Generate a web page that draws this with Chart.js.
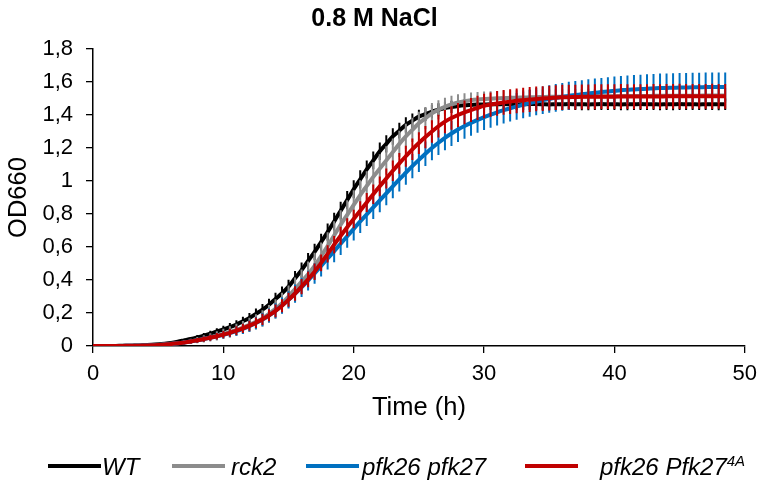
<!DOCTYPE html>
<html>
<head>
<meta charset="utf-8">
<script src="https://cdn.jsdelivr.net/npm/chart.js@4.4.1/dist/chart.umd.min.js"></script>
<style>
    body { margin: 0; background: #fff; }
    #wrap { position: relative; width: 765px; height: 490px; }
    #legend { position: absolute; left: 0; top: 0; width: 765px; height: 490px; pointer-events: none;
        font-family: "Liberation Sans", Arial, sans-serif; font-style: italic; font-size: 24px; color: #000; }
    #legend .ln { position: absolute; height: 4px; top: 464px; }
    #legend .tx { position: absolute; top: 454px; line-height: 26px; white-space: nowrap; }
    #legend sup { font-size: 15px; vertical-align: 9px; line-height: 0; }
</style>
</head>
<body>
<div id="wrap">
    <canvas id="chart" width="765" height="490"></canvas>
    <div id="legend"></div>
</div>
<script>
// time in hours (one reading every 30 min)
const hours = [
    0, 0.5, 1, 1.5, 2, 2.5, 3, 3.5, 4, 4.5,
    5, 5.5, 6, 6.5, 7, 7.5, 8, 8.5, 9, 9.5,
    10, 10.5, 11, 11.5, 12, 12.5, 13, 13.5, 14, 14.5,
    15, 15.5, 16, 16.5, 17, 17.5, 18, 18.5, 19, 19.5,
    20, 20.5, 21, 21.5, 22, 22.5, 23, 23.5, 24, 24.5,
    25, 25.5, 26, 26.5, 27, 27.5, 28, 28.5, 29, 29.5,
    30, 30.5, 31, 31.5, 32, 32.5, 33, 33.5, 34, 34.5,
    35, 35.5, 36, 36.5, 37, 37.5, 38, 38.5, 39, 39.5,
    40, 40.5, 41, 41.5, 42, 42.5, 43, 43.5, 44, 44.5,
    45, 45.5, 46, 46.5, 47, 47.5, 48, 48.5
];

const wtMean = [
    0.000, 0.000, 0.000, 0.000, 0.001, 0.001, 0.002, 0.003, 0.005, 0.007,
    0.010, 0.014, 0.019, 0.026, 0.034, 0.042, 0.052, 0.063, 0.075, 0.088,
    0.100, 0.115, 0.130, 0.150, 0.170, 0.195, 0.220, 0.250, 0.285, 0.320,
    0.360, 0.410, 0.460, 0.515, 0.570, 0.630, 0.690, 0.755, 0.820, 0.885,
    0.950, 1.010, 1.070, 1.125, 1.180, 1.225, 1.270, 1.305, 1.340, 1.365,
    1.390, 1.405, 1.420, 1.432, 1.442, 1.449, 1.455, 1.459, 1.461, 1.463,
    1.464, 1.465, 1.465, 1.466, 1.465, 1.464, 1.465, 1.466, 1.466, 1.465,
    1.464, 1.465, 1.465, 1.466, 1.465, 1.465, 1.464, 1.465, 1.466, 1.465,
    1.465, 1.464, 1.465, 1.465, 1.466, 1.465, 1.465, 1.464, 1.465, 1.465,
    1.466, 1.465, 1.465, 1.464, 1.465, 1.465, 1.465, 1.465
];
const wtSd = [
    0, 0, 0, 0, 0.001, 0.001, 0.001, 0.002, 0.002, 0.003,
    0.004, 0.005, 0.006, 0.008, 0.010, 0.012, 0.014, 0.016, 0.018, 0.020,
    0.022, 0.024, 0.026, 0.028, 0.030, 0.032, 0.034, 0.036, 0.038, 0.040,
    0.042, 0.044, 0.046, 0.048, 0.050, 0.051, 0.052, 0.053, 0.054, 0.054,
    0.055, 0.055, 0.055, 0.054, 0.053, 0.052, 0.050, 0.048, 0.046, 0.044,
    0.042, 0.041, 0.040, 0.039, 0.038, 0.037, 0.036, 0.036, 0.035, 0.035,
    0.035, 0.035, 0.036, 0.035, 0.035, 0.034, 0.035, 0.035, 0.036, 0.035,
    0.035, 0.035, 0.034, 0.035, 0.035, 0.036, 0.035, 0.035, 0.035, 0.034,
    0.035, 0.035, 0.036, 0.035, 0.035, 0.035, 0.034, 0.035, 0.035, 0.036,
    0.035, 0.035, 0.035, 0.034, 0.035, 0.035, 0.036, 0.035
];

const rck2Mean = [
    0.000, 0.000, 0.000, 0.000, 0.000, 0.001, 0.001, 0.002, 0.003, 0.005,
    0.007, 0.010, 0.013, 0.017, 0.022, 0.028, 0.035, 0.043, 0.052, 0.062,
    0.073, 0.085, 0.098, 0.112, 0.128, 0.146, 0.166, 0.195, 0.225, 0.260,
    0.300, 0.345, 0.390, 0.435, 0.485, 0.545, 0.605, 0.670, 0.735, 0.795,
    0.855, 0.915, 0.970, 1.025, 1.075, 1.125, 1.175, 1.225, 1.270, 1.310,
    1.350, 1.380, 1.410, 1.432, 1.450, 1.465, 1.476, 1.484, 1.490, 1.494,
    1.497, 1.499, 1.501, 1.503, 1.504, 1.505, 1.506, 1.507, 1.508, 1.509,
    1.510, 1.510, 1.511, 1.511, 1.512, 1.512, 1.513, 1.513, 1.513, 1.514,
    1.514, 1.514, 1.515, 1.515, 1.515, 1.515, 1.516, 1.516, 1.516, 1.516,
    1.517, 1.517, 1.517, 1.517, 1.518, 1.518, 1.518, 1.518
];
const rck2Sd = [
    0, 0, 0, 0, 0, 0.001, 0.001, 0.002, 0.003, 0.004,
    0.005, 0.007, 0.009, 0.011, 0.013, 0.016, 0.019, 0.022, 0.025, 0.028,
    0.031, 0.034, 0.037, 0.040, 0.043, 0.046, 0.050, 0.054, 0.058, 0.062,
    0.066, 0.070, 0.074, 0.077, 0.080, 0.082, 0.084, 0.086, 0.087, 0.088,
    0.089, 0.089, 0.089, 0.088, 0.087, 0.085, 0.083, 0.080, 0.077, 0.074,
    0.070, 0.066, 0.062, 0.058, 0.055, 0.052, 0.050, 0.048, 0.047, 0.046,
    0.045, 0.045, 0.045, 0.046, 0.045, 0.045, 0.044, 0.045, 0.045, 0.046,
    0.045, 0.045, 0.045, 0.044, 0.045, 0.045, 0.046, 0.045, 0.045, 0.045,
    0.044, 0.045, 0.045, 0.046, 0.045, 0.045, 0.045, 0.044, 0.045, 0.045,
    0.046, 0.045, 0.045, 0.045, 0.044, 0.045, 0.045, 0.045
];

const pfkMean = [
    0.000, 0.000, 0.000, 0.000, 0.000, 0.001, 0.001, 0.002, 0.003, 0.004,
    0.006, 0.009, 0.012, 0.016, 0.021, 0.027, 0.034, 0.042, 0.050, 0.059,
    0.068, 0.078, 0.090, 0.104, 0.120, 0.139, 0.160, 0.185, 0.213, 0.245,
    0.280, 0.317, 0.355, 0.396, 0.440, 0.485, 0.530, 0.575, 0.620, 0.665,
    0.710, 0.755, 0.798, 0.840, 0.882, 0.925, 0.968, 1.010, 1.050, 1.090,
    1.128, 1.165, 1.200, 1.232, 1.262, 1.288, 1.312, 1.333, 1.352, 1.370,
    1.387, 1.402, 1.416, 1.429, 1.441, 1.452, 1.462, 1.472, 1.481, 1.489,
    1.497, 1.504, 1.510, 1.516, 1.521, 1.526, 1.531, 1.535, 1.539, 1.543,
    1.547, 1.550, 1.553, 1.555, 1.557, 1.559, 1.561, 1.563, 1.564, 1.565,
    1.566, 1.567, 1.568, 1.568, 1.569, 1.569, 1.570, 1.570
];
const pfkSd = [
    0, 0, 0, 0, 0, 0.001, 0.001, 0.001, 0.002, 0.003,
    0.004, 0.005, 0.006, 0.008, 0.010, 0.012, 0.014, 0.016, 0.018, 0.020,
    0.022, 0.025, 0.028, 0.031, 0.034, 0.037, 0.040, 0.043, 0.046, 0.049,
    0.052, 0.055, 0.058, 0.060, 0.062, 0.064, 0.066, 0.067, 0.068, 0.069,
    0.070, 0.070, 0.071, 0.071, 0.072, 0.072, 0.072, 0.073, 0.073, 0.073,
    0.074, 0.074, 0.074, 0.075, 0.075, 0.076, 0.076, 0.077, 0.077, 0.078,
    0.078, 0.079, 0.079, 0.080, 0.080, 0.081, 0.081, 0.082, 0.082, 0.083,
    0.083, 0.084, 0.084, 0.085, 0.085, 0.085, 0.086, 0.086, 0.086, 0.086,
    0.087, 0.087, 0.087, 0.087, 0.087, 0.088, 0.088, 0.088, 0.088, 0.088,
    0.088, 0.088, 0.088, 0.088, 0.088, 0.088, 0.088, 0.088
];

const pfk4aMean = [
    0.000, 0.000, 0.000, 0.000, 0.000, 0.001, 0.001, 0.002, 0.003, 0.004,
    0.006, 0.009, 0.012, 0.016, 0.021, 0.027, 0.034, 0.042, 0.050, 0.059,
    0.069, 0.080, 0.093, 0.107, 0.123, 0.141, 0.162, 0.186, 0.213, 0.244,
    0.280, 0.318, 0.360, 0.404, 0.450, 0.504, 0.558, 0.614, 0.668, 0.720,
    0.770, 0.820, 0.870, 0.920, 0.968, 1.015, 1.062, 1.107, 1.150, 1.192,
    1.230, 1.266, 1.300, 1.332, 1.360, 1.382, 1.400, 1.416, 1.430, 1.443,
    1.455, 1.463, 1.470, 1.476, 1.481, 1.486, 1.490, 1.494, 1.497, 1.500,
    1.503, 1.505, 1.507, 1.508, 1.509, 1.510, 1.510, 1.511, 1.511, 1.511,
    1.511, 1.512, 1.512, 1.512, 1.512, 1.512, 1.512, 1.512, 1.513, 1.513,
    1.513, 1.513, 1.513, 1.513, 1.513, 1.513, 1.513, 1.513
];
const pfk4aSd = [
    0, 0, 0, 0, 0, 0.001, 0.001, 0.001, 0.002, 0.003,
    0.004, 0.005, 0.006, 0.008, 0.010, 0.012, 0.014, 0.016, 0.018, 0.020,
    0.022, 0.024, 0.026, 0.028, 0.030, 0.032, 0.034, 0.036, 0.038, 0.040,
    0.042, 0.044, 0.046, 0.048, 0.050, 0.051, 0.052, 0.053, 0.054, 0.055,
    0.056, 0.057, 0.058, 0.059, 0.060, 0.061, 0.062, 0.063, 0.064, 0.065,
    0.066, 0.067, 0.068, 0.069, 0.070, 0.071, 0.072, 0.072, 0.073, 0.073,
    0.074, 0.074, 0.075, 0.075, 0.075, 0.075, 0.075, 0.076, 0.075, 0.075,
    0.075, 0.075, 0.076, 0.075, 0.075, 0.075, 0.075, 0.076, 0.075, 0.075,
    0.075, 0.076, 0.075, 0.075, 0.075, 0.075, 0.076, 0.075, 0.075, 0.075,
    0.076, 0.075, 0.075, 0.075, 0.075, 0.076, 0.075, 0.075
];

const strains = ['WT', 'rck2', 'pfk26 pfk27', 'pfk26 Pfk27'];
const strainSup = ['', '', '', '4A'];
const colors = ['#000000', '#8c8c8c', '#0070c0', '#c00000'];
const xTicks = [0, 10, 20, 30, 40, 50];
const yTicks = [0, 0.2, 0.4, 0.6, 0.8, 1, 1.2, 1.4, 1.6, 1.8];

const FONT = '"Liberation Sans", Arial, sans-serif';

function toPoints(values) {
    return values.map((v, i) => ({ x: hours[i], y: v }));
}

// vertical error bars, drawn just before each series line
const errorBars = {
    id: 'errorBars',
    beforeDatasetDraw(chart, args) {
        const ds = chart.data.datasets[args.index];
        if (!ds.sd) return;
        const ctx = chart.ctx;
        const yScale = chart.scales.y;
        ctx.save();
        ctx.strokeStyle = ds.borderColor;
        ctx.lineWidth = 2;
        ctx.beginPath();
        args.meta.data.forEach((pt, i) => {
            const v = ds.data[i].y;
            const s = ds.sd[i];
            if (!s) return;
            ctx.moveTo(pt.x, yScale.getPixelForValue(v - s));
            ctx.lineTo(pt.x, yScale.getPixelForValue(v + s));
        });
        ctx.stroke();
        ctx.restore();
    }
};

function makeDataset(i, mean, sd) {
    return {
        label: strains[i] + strainSup[i],
        data: toPoints(mean),
        sd: sd,
        borderColor: colors[i],
        backgroundColor: colors[i],
        borderWidth: 4,
        pointRadius: 0,
        tension: 0.3,
        fill: false,
        order: 4 - i
    };
}

const ctx = document.getElementById('chart').getContext('2d');
const chart = new Chart(ctx, {
    type: 'line',
    data: {
        datasets: [
            makeDataset(0, wtMean, wtSd),
            makeDataset(1, rck2Mean, rck2Sd),
            makeDataset(2, pfkMean, pfkSd),
            makeDataset(3, pfk4aMean, pfk4aSd)
        ]
    },
    options: {
        responsive: false,
        animation: false,
        devicePixelRatio: 1,
        layout: { padding: { left: 0, right: 16, top: 0, bottom: 44 } },
        plugins: {
            legend: { display: false },
            tooltip: { enabled: false },
            title: {
                display: true,
                text: '0.8 M NaCl',
                color: '#000',
                font: { family: FONT, size: 25, weight: 'bold' },
                padding: { top: 4, bottom: 15 }
            }
        },
        scales: {
            x: {
                type: 'linear',
                min: 0,
                max: 50,
                afterBuildTicks: (scale) => { scale.ticks = xTicks.map(v => ({ value: v })); },
                afterFit: (scale) => { scale.height = 100; },
                ticks: { color: '#000', font: { family: FONT, size: 22 }, padding: 8, maxRotation: 0 },
                grid: { drawOnChartArea: false, drawTicks: true, tickLength: 7, color: '#000', lineWidth: 1.3 },
                border: { display: true, color: '#000', width: 1.5 },
                title: {
                    display: true,
                    text: 'Time (h)',
                    color: '#000',
                    font: { family: FONT, size: 25.5 },
                    padding: { top: 0, bottom: 23 }
                }
            },
            y: {
                min: 0,
                max: 1.8,
                afterBuildTicks: (scale) => { scale.ticks = yTicks.map(v => ({ value: v })); },
                afterFit: (scale) => { scale.width = 93; },
                ticks: {
                    color: '#000',
                    font: { family: FONT, size: 22 },
                    padding: 13,
                    callback: (v) => String(+v.toFixed(1)).replace('.', ',')
                },
                grid: { drawOnChartArea: false, drawTicks: true, tickLength: 7, color: '#000', lineWidth: 1.3 },
                border: { display: true, color: '#000', width: 1.5 },
                title: {
                    display: true,
                    text: 'OD660',
                    color: '#000',
                    font: { family: FONT, size: 25.5 },
                    padding: { top: 4, bottom: 0 }
                }
            }
        }
    },
    plugins: [errorBars]
});

// legend below the plot (html so the superscript stays real text)
const legendPos = [
    { line: 48, text: 102 },
    { line: 172, text: 231 },
    { line: 306, text: 362 },
    { line: 525, text: 600 }
];
const legend = document.getElementById('legend');
strains.forEach((name, i) => {
    const ln = document.createElement('div');
    ln.className = 'ln';
    ln.style.left = legendPos[i].line + 'px';
    ln.style.width = '53px';
    ln.style.background = colors[i];
    legend.appendChild(ln);

    const tx = document.createElement('div');
    tx.className = 'tx';
    tx.style.left = legendPos[i].text + 'px';
    tx.textContent = name;
    if (strainSup[i]) {
        const sup = document.createElement('sup');
        sup.textContent = strainSup[i];
        tx.appendChild(sup);
    }
    legend.appendChild(tx);
});
</script>
</body>
</html>
